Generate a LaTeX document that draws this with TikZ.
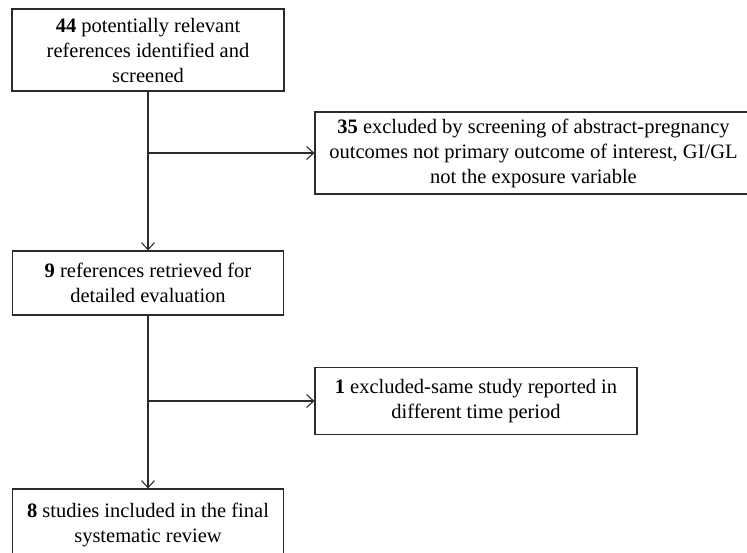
\documentclass[tikz,border=0pt]{standalone}
\usepackage{fontspec}
\setmainfont{Liberation Serif}
\usetikzlibrary{arrows.meta}
\definecolor{linec}{HTML}{2B2B2B}
\begin{document}
\begin{tikzpicture}[x=1pt,y=-1pt,
  boxst/.style={draw=linec, line width=1.2pt, rectangle, inner sep=0pt,
    align=center, font=\fontsize{20.5}{25}\selectfont, text=black},
  arr/.style={draw=linec, line width=1.2pt,
    -{Straight Barb[length=7pt,width=13pt,line width=1.1pt]}}]
\useasboundingbox (0,0) rectangle (747,553);
\clip (0,0) rectangle (747,553);
\fill[white] (0,0) rectangle (747,553);
\node[boxst, minimum width=272pt, minimum height=82pt] (b1) at (148,50)
  {\textbf{44} potentially relevant\\references identified and\\screened};
\node[boxst, minimum width=437pt, minimum height=82pt] (b2) at (533.5,153)
  {\textbf{35} excluded by screening of abstract-pregnancy\\outcomes not primary outcome of interest, GI/GL\\not the exposure variable};
\node[boxst, minimum width=271pt, minimum height=64pt] (b3) at (148,283)
  {\textbf{9} references retrieved for\\detailed evaluation};
\node[boxst, minimum width=322pt, minimum height=67pt] (b4) at (476,401)
  {\textbf{1} excluded-same study reported in\\different time period};
\node[boxst, minimum width=271pt, minimum height=72pt] (b5) at (148,525)
  {\textbf{8} studies included in the final\\systematic review};
\coordinate (j1) at (b1.south |- b2.west);
\coordinate (j2) at (b3.south |- b4.west);
\draw[arr] (b1.south) -- (b1.south |- b3.north);
\draw[arr] (j1) -- (b2.west);
\draw[arr] (b3.south) -- (b3.south |- b5.north);
\draw[arr] (j2) -- (b4.west);
\end{tikzpicture}
\end{document}
